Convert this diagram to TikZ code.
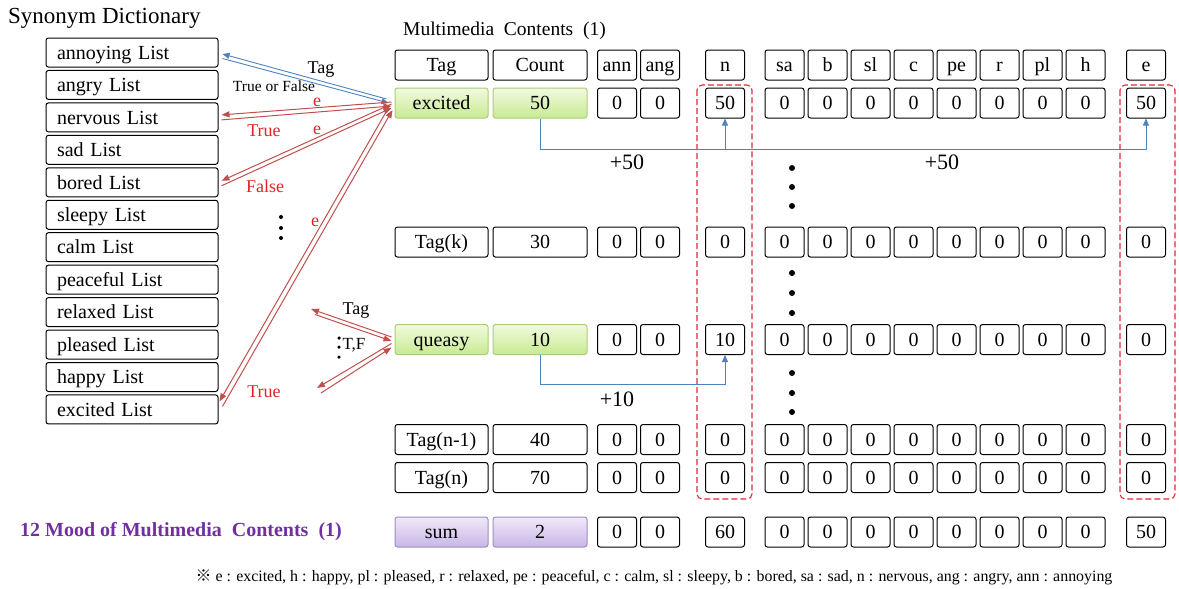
\documentclass[tikz,border=0pt]{standalone}
\usepackage{fontspec}
\setmainfont{Liberation Serif}
\newfontfamily\cjkf{Noto Sans CJK SC}
\usetikzlibrary{arrows.meta,calc}
\definecolor{arrred}{RGB}{192,80,77}
\definecolor{lblred}{RGB}{225,35,35}
\definecolor{conblue}{RGB}{79,129,189}
\definecolor{dashred}{RGB}{225,40,55}
\definecolor{moodpurple}{RGB}{112,48,160}
\definecolor{gtop}{RGB}{242,250,224}
\definecolor{gbot}{RGB}{200,234,145}
\definecolor{gbord}{RGB}{170,205,120}
\definecolor{ptop}{RGB}{240,233,249}
\definecolor{pbot}{RGB}{200,182,230}
\definecolor{pbord}{RGB}{160,140,195}
\newcommand{\fs}[1]{\fontsize{#1}{#1}\selectfont}
\begin{document}
\begin{tikzpicture}[x=1pt,y=-1pt,
  cell/.style={draw,line width=1pt,rounded corners=2.5pt,minimum height=30pt,inner sep=0pt,text height=17.5pt,text depth=4pt,font=\fs{20}},
  sc/.style={cell,minimum width=39pt},
  wide/.style={cell,minimum width=93pt},
  plain/.style={},
  grn/.style={draw=gbord,top color=gtop,bottom color=gbot},
  prp/.style={draw=pbord,top color=ptop,bottom color=pbot},
  listbox/.style={draw,line width=1pt,rounded corners=2.5pt,minimum height=29pt,text width=150pt,inner xsep=11pt,inner ysep=0pt,text height=17.5pt,text depth=4pt,align=left,font=\fs{20}},
  redarr/.style={draw=arrred,line width=1pt,-{Triangle[length=8pt,width=6pt]}},
  bluearr/.style={draw=conblue,line width=0.9pt,-{Triangle[length=7pt,width=6pt]}},
  lbl/.style={text=lblred,font=\fs{18},inner sep=0pt},
  dotc/.style={fill=black,circle,inner sep=0pt,minimum size=6pt},
  sdot/.style={fill=black,circle,inner sep=0pt,minimum size=4pt}
]
\useasboundingbox (0,0) rectangle (1179,589);

% titles
\node[anchor=west,font=\fs{23},inner sep=0pt] (syn) at (8,18) {Synonym Dictionary};
\node[anchor=west,font=\fs{19.5},inner sep=0pt] (mmc) at (403,31) {Multimedia\ \ Contents\ \ (1)};

% synonym lists
\foreach \t [count=\i] in {annoying List,angry List,nervous List,sad List,bored List,sleepy List,calm List,peaceful List,relaxed List,pleased List,happy List,excited List}
  \node[listbox] (l\i) at (132,{52.5+32.45*(\i-1)}) {\t};

% header row
\node[wide] (hd-tag) at (441.5,65) {Tag};
\node[wide,minimum width=94pt] (hd-cnt) at (540,65) {Count};
\foreach \nm/\x in {ann/617,ang/660,n/725,sa/784.5,b/827.5,sl/870.5,c/913.5,pe/956.5,r/999.5,pl/1042.5,h/1085.5,e/1146}
  \node[sc] (hd-\nm) at (\x,65) {\nm};

% data rows
\foreach \rw/\y/\tg/\ct/\vn/\ve/\sty in {exc/103/excited/50/50/50/grn,tk/242/Tag(k)/30/0/0/plain,qs/339.5/queasy/10/10/0/grn,tna/439.5/Tag(n-1)/40/0/0/plain,tn/477.5/Tag(n)/70/0/0/plain,sum/532/sum/2/60/50/prp}{
  \node[wide,\sty] (\rw-tag) at (441.5,\y) {\tg};
  \node[wide,minimum width=94pt,\sty] (\rw-cnt) at (540,\y) {\ct};
  \foreach \nm/\x in {ann/617,ang/660,sa/784.5,b/827.5,sl/870.5,c/913.5,pe/956.5,r/999.5,pl/1042.5,h/1085.5}
    \node[sc] (\rw-\nm) at (\x,\y) {0};
  \node[sc] (\rw-n) at (725,\y) {\vn};
  \node[sc] (\rw-e) at (1146,\y) {\ve};
}

% dashed red frames
\draw[dashred,line width=1.1pt,rounded corners=5pt,dash pattern=on 6pt off 3pt] (697,85) rectangle (752,499);
\draw[dashred,line width=1.1pt,rounded corners=5pt,dash pattern=on 6pt off 3pt] (1120,85) rectangle (1175,499);

% vertical dots
\foreach \yy in {168,187,206,273,293,313,373,393,412}
  \node[dotc] (vd\yy) at (792,\yy) {};
\foreach \yy in {217,228,238}
  \node[sdot] (ld\yy) at (281,\yy) {};
\foreach \yy in {338,347,357}
  \node[inner sep=0pt,fill=black,circle,minimum size=3.5pt] (qd\yy) at (339,\yy) {};

% blue count connectors
\coordinate (busE) at (0,149);
\coordinate (busQ) at (0,384);
\draw[bluearr] (exc-cnt.south) -- (exc-cnt.south |- busE) -| (exc-e.south);
\draw[bluearr] (exc-n.south |- busE) -- (exc-n.south);
\draw[bluearr] (qs-cnt.south) -- (qs-cnt.south |- busQ) -| (qs-n.south);
\node[font=\fs{22},inner sep=0pt] (p50a) at (627,162) {+50};
\node[font=\fs{22},inner sep=0pt] (p50b) at (942,162) {+50};
\node[font=\fs{22},inner sep=0pt] (p10) at (617,399) {+10};

% blue pair to annoying list
\draw[bluearr] ($(exc-tag.west)+(-8,-4)$) -- ($(l1.east)+(4,1.5)$);
\draw[bluearr] ($(l1.east)+(4,6)$) -- ($(exc-tag.west)+(-6,0)$);
\node[font=\fs{18},inner sep=0pt] (tagl) at (321,70) {Tag};
\node[font=\fs{15.5},inner sep=0pt] (tofl) at (274,86) {True or False};

% nervous pair
\draw[redarr] ($(exc-tag.west)+(-3,-1)$) -- ($(l3.east)+(3,-2.5)$);
\draw[redarr] ($(l3.east)+(3,2.5)$) -- ($(exc-tag.west)+(-3,3)$);
\node[lbl] (e1) at (317,102) {e};
\node[lbl] (t1) at (264,131) {True};

% bored pair
\draw[redarr] ($(exc-tag.west)+(-3,1)$) -- ($(l5.east)+(3,-1.5)$);
\draw[redarr] ($(l5.east)+(3,3.5)$) -- ($(exc-tag.west)+(-3,5)$);
\node[lbl] (e2) at (317,130) {e};
\node[lbl] (f2) at (265,186) {False};

% excited list pair
\draw[redarr] ($(exc-tag.west)+(-5,3)$) -- ($(l12.east)+(1,-8)$);
\draw[redarr] ($(l12.east)+(4,-3)$) -- ($(exc-tag.west)+(-2,7)$);
\node[lbl] (e3) at (315,222) {e};
\node[lbl] (t3) at (264,392) {True};

% queasy pairs
\coordinate (qa1) at (311,309);
\coordinate (qa2) at (315,314.5);
\coordinate (qb1) at (317,388);
\coordinate (qb2) at (321,393);
\draw[redarr] ($(qs-tag.west)+(-3,-2.5)$) -- (qa1);
\draw[redarr] (qa2) -- ($(qs-tag.west)+(-3,1.5)$);
\draw[redarr] ($(qs-tag.west)+(-3,4)$) -- (qb1);
\draw[redarr] (qb2) -- ($(qs-tag.west)+(-3,8)$);
\node[font=\fs{18},inner sep=0pt] (qtag) at (356,311) {Tag};
\node[font=\fs{17},inner sep=0pt] (qtf) at (354,345) {T,F};

% bottom texts
\node[anchor=west,text=moodpurple,font=\bfseries\fs{20},inner sep=0pt] (mood) at (20,532) {12 Mood of Multimedia\ \ Contents\ \ (1)};
\node[font=\fs{15.9},inner sep=0pt] (foot) at (654,577) {{\cjkf ※} e : excited, h : happy, pl : pleased, r : relaxed, pe : peaceful, c : calm, sl : sleepy, b : bored, sa : sad, n : nervous, ang : angry, ann : annoying};
\end{tikzpicture}
\end{document}
